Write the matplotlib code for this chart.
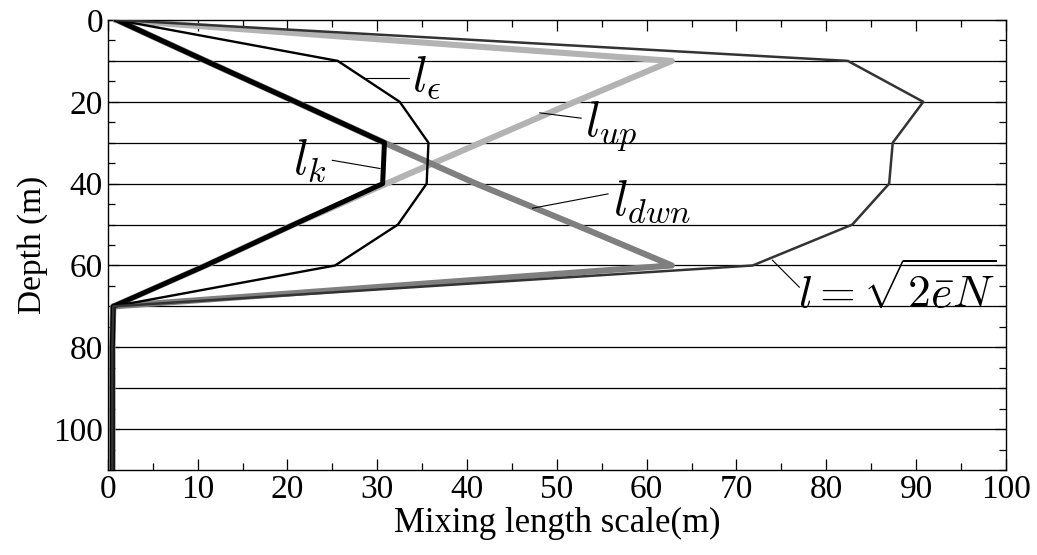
import matplotlib
matplotlib.use('Agg')
import matplotlib.pyplot as plt
from matplotlib.ticker import MultipleLocator

plt.rcParams['font.family'] = ['Liberation Serif', 'DejaVu Serif']
plt.rcParams['mathtext.fontset'] = 'cm'

# dybder og lengdeskalaer (m)
depth = [0, 10, 20, 30, 40, 50, 60, 70, 80, 90, 100, 110]
l_up = [1, 62.8, 52.0, 41.5, 31.0, 20.7, 10.9, 0.6, 0.5, 0.5, 0.5, 0.5]
l_dwn = [1, 10.9, 20.9, 30.8, 41.0, 52.0, 62.8, 0.6, 0.5, 0.5, 0.5, 0.5]
l_k = [1, 10.9, 20.9, 30.8, 30.6, 20.7, 10.9, 0.6, 0.5, 0.5, 0.5, 0.5]
l_eps = [1, 25.6, 32.5, 35.7, 35.5, 32.3, 25.3, 0.6, 0.5, 0.5, 0.5, 0.5]
l_en = [1, 82.4, 90.8, 87.4, 87.0, 82.9, 71.8, 0.6, 0.5, 0.5, 0.5, 0.5]
grid_depths = [10, 20, 30, 40, 50, 60, 70, 80, 90, 100]

fig = plt.figure(figsize=(10.37, 5.55), dpi=100)
ax = fig.add_axes([0.104, 0.153, 0.866, 0.811])

for d in grid_depths:
    ax.axhline(d, color='black', lw=0.9, zorder=1)

ax.plot(l_up, depth, color='#b3b3b3', lw=4.4, zorder=2)
ax.plot(l_dwn, depth, color='#7f7f7f', lw=4.4, zorder=3)
ax.plot(l_k, depth, color='black', lw=3.6, zorder=4)
ax.plot(l_eps, depth, color='black', lw=1.7, zorder=5)
ax.plot(l_en, depth, color='#333333', lw=1.8, zorder=6)

# merkelapper: tekst + tynn strek (fra, til)
fs = 35
etiketter = [
    (r'$l_\epsilon$', 33.9, 14.0, 'left', (28.8, 33.5), (14.2, 14.2)),
    (r'$l_k$', 24.4, 34.4, 'right', (25.0, 30.3), (34.3, 36.3)),
    (r'$l_{up}$', 53.1, 26.0, 'left', (48.1, 52.7), (22.7, 24.0)),
    (r'$l_{dwn}$', 56.2, 44.3, 'left', (47.3, 55.7), (46.0, 42.5)),
]
for tekst, tx, ty, ha, lx, ly in etiketter:
    ax.text(tx, ty, tekst, fontsize=fs, ha=ha, va='center', zorder=7)
    ax.plot(lx, ly, color='black', lw=0.8, zorder=7)
ax.text(76.9, 66.2, r'$l=\sqrt{2\bar{e}N}$', fontsize=33, ha='left', va='center', zorder=7)
ax.plot((74.0, 77.0), (58.7, 65.3), color='black', lw=0.8, zorder=7)

ax.set_xlim(0, 100)
ax.set_ylim(110, 0)
ax.xaxis.set_major_locator(MultipleLocator(10))
ax.xaxis.set_minor_locator(MultipleLocator(5))
ax.yaxis.set_major_locator(MultipleLocator(20))
ax.yaxis.set_minor_locator(MultipleLocator(5))
ax.tick_params(which='both', direction='in', top=True, right=True, labelsize=24)
ax.tick_params(which='major', length=8, width=0.9)
ax.tick_params(which='minor', length=5, width=0.9)
for s in ax.spines.values():
    s.set_linewidth(1.0)

ax.set_xlabel('Mixing length scale(m)', fontsize=25, labelpad=1)
ax.set_ylabel('Depth (m)', fontsize=24, labelpad=4)

fig.savefig('out.png', dpi=100)
